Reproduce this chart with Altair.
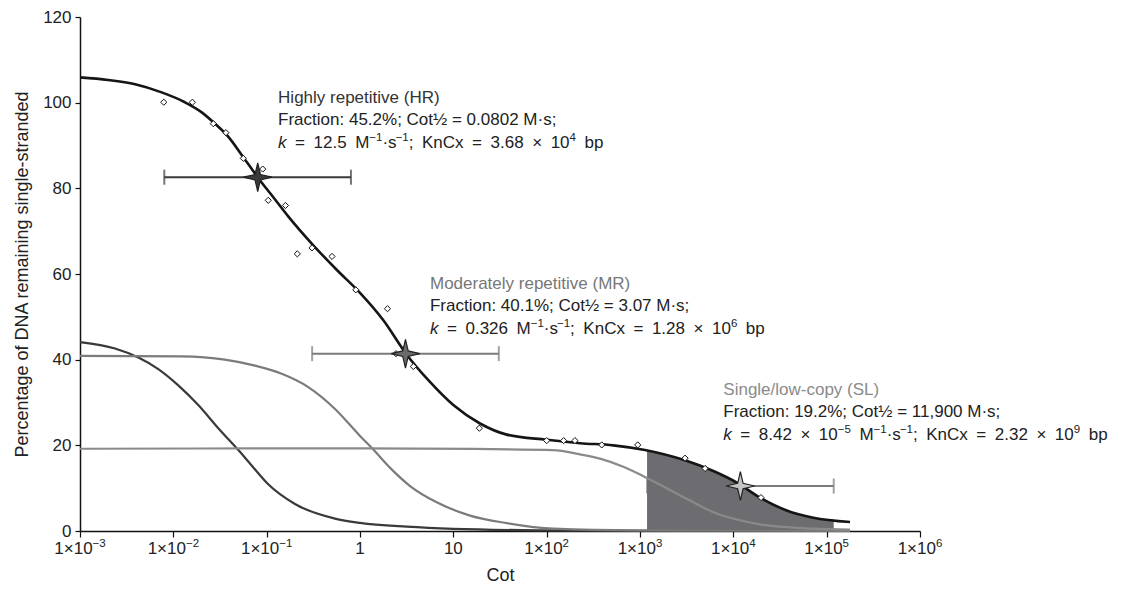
import altair as alt
import pandas as pd

# ---------------- data ----------------
x_ticks = [1e-3, 1e-2, 1e-1, 1, 10, 1e2, 1e3, 1e4, 1e5, 1e6]
x_tick_base = ["1×10", "1×10", "1×10", "1", "10", "1×10", "1×10", "1×10", "1×10", "1×10"]
x_tick_exp = ["−3", "−2", "−1", "", "", "2", "3", "4", "5", "6"]
y_ticks = [0, 20, 40, 60, 80, 100, 120]

# total fitted curve (black)
total_cot = [0.001, 0.002, 0.0039, 0.0075, 0.0133, 0.020, 0.0279, 0.0389, 0.054, 0.080,
             0.123, 0.171, 0.316, 0.562, 1.0, 1.78, 3.11, 5.62, 10, 19.3, 37.3, 100,
             228, 518, 1130, 3030, 6110, 10900, 19300, 37300, 71900, 178000]
total_pct = [105.9, 105.3, 104.3, 102.4, 100.1, 97.8, 95.1, 92.0, 87.8, 82.6,
             77.4, 73.4, 66.7, 61.0, 55.6, 49.2, 41.4, 34.8, 29.4, 25.1, 22.5, 21.3,
             20.5, 20.0, 18.9, 16.5, 14.0, 11.3, 7.8, 4.8, 3.1, 2.1]

# highly repetitive component (dark grey)
hr_cot = [0.001, 0.00237, 0.00422, 0.0069, 0.0113, 0.0185, 0.0303, 0.0497, 0.069, 0.104,
          0.201, 0.54, 1.0, 3.16, 10, 100, 1000, 178000]
hr_pct = [44.1, 42.6, 40.5, 37.8, 34.0, 29.4, 24.0, 18.9, 15.3, 10.9,
          6.3, 2.9, 1.9, 1.0, 0.5, 0.15, 0.05, 0.0]

# moderately repetitive component (grey)
mr_cot = [0.001, 0.0123, 0.0357, 0.075, 0.145, 0.279, 0.54, 1.0, 1.39, 2.09, 3.44, 6.64,
          15.1, 37.3, 118, 1000, 178000]
mr_pct = [40.9, 40.75, 40.0, 38.6, 36.7, 33.6, 28.5, 22.2, 19.0, 14.8, 10.5, 6.7,
          3.6, 1.85, 0.55, 0.15, 0.05]

# single/low-copy component (grey)
sl_cot = [0.001, 1.0, 16.6, 117, 228, 373, 662, 1090, 1930, 3440, 6110, 11800, 22800, 71900, 178000]
sl_pct = [19.2, 19.3, 19.15, 18.9, 17.9, 16.9, 15.0, 12.8, 10.0, 7.1, 4.4, 2.5, 1.3, 0.55, 0.3]

# shaded single-copy region (under the total curve)
area_cot = [1190, 3030, 6110, 10900, 19300, 37300, 71900, 119000]
area_pct = [18.8, 16.5, 14.0, 11.3, 7.8, 4.8, 3.1, 2.7]

# measured points (diamonds)
pts_cot = [0.0079, 0.0160, 0.0268, 0.0366, 0.0562, 0.0907, 0.104, 0.159, 0.213, 0.306,
           0.501, 0.902, 1.97, 2.43, 3.73, 19.0, 100, 152, 201, 389, 946, 3040, 4980, 19800]
pts_pct = [100.1, 100.1, 95.1, 93.0, 87.0, 84.5, 77.2, 76.0, 64.7, 66.1,
           64.1, 56.3, 51.9, 41.4, 38.4, 24.0, 21.1, 21.1, 21.1, 20.1, 20.1, 17.0, 14.6, 7.8]

# Cot1/2 markers with error ranges
comp_names = ["HR", "MR", "SL"]
half_cot = [0.0802, 3.07, 11900]
half_pct = [82.6, 41.4, 10.5]
err_lo = [0.008, 0.307, 1190]
err_hi = [0.80, 30.7, 119000]

# annotations (n = normal, i = italic, s = superscript)
ann_title = ["Highly repetitive (HR)", "Moderately repetitive (MR)", "Single/low-copy (SL)"]
ann_line2 = ["Fraction: 45.2%; Cot½ = 0.0802 M·s;",
             "Fraction: 40.1%; Cot½ = 3.07 M·s;",
             "Fraction: 19.2%; Cot½ = 11,900 M·s;"]
ann_line3 = [
    [("k", "i"), (" = 12.5 M", "n"), ("−1", "s"), ("·s", "n"), ("−1", "s"),
     ("; KnCx = 3.68 × 10", "n"), ("4", "s"), (" bp", "n")],
    [("k", "i"), (" = 0.326 M", "n"), ("−1", "s"), ("·s", "n"), ("−1", "s"),
     ("; KnCx = 1.28 × 10", "n"), ("6", "s"), (" bp", "n")],
    [("k", "i"), (" = 8.42 × 10", "n"), ("−5", "s"), (" M", "n"), ("−1", "s"), ("·s", "n"), ("−1", "s"),
     ("; KnCx = 2.32 × 10", "n"), ("9", "s"), (" bp", "n")],
]
ann_cot = [0.1325, 5.62, 7810]
ann_pct = [100.0, 56.6, 31.8]

# ---------------- styling ----------------
FONT = "Liberation Sans"
HR_COL = "#3a3a3a"
MR_COL = "#7b7b7b"
SL_COL = "#8a8a8a"
BLACK = "#151515"
TXT = "#222222"
STAR = "M0,-1 L0.19,-0.19 L1,0 L0.19,0.19 L0,1 L-0.19,0.19 L-1,0 L-0.19,-0.19 Z"
FS = 17          # annotation font size
SUP = 11.5       # superscript font size
SUP_RAISE = 7    # superscript raise (px)
LH = 22.5        # line height
TICK_FS = 17
EXTRA_SPACE = 3.8  # wider word spacing of the third annotation lines

# approximate Arial/Liberation Sans advance widths (em)
W = {" ": .278, ".": .278, ",": .278, ";": .278, ":": .278, "=": .584, "×": .584, "·": .278,
     "M": .833, "s": .5, "K": .667, "n": .556, "C": .722, "x": .5, "b": .556, "p": .556,
     "k": .5, "−": .584, "-": .333}
for d in "0123456789":
    W[d] = .556


def text_width(t, size):
    return sum(W.get(c, .556) for c in t) * size


xscale = alt.Scale(type="log", domain=[1e-3, 1e6], nice=False)
yscale = alt.Scale(domain=[0, 120], nice=False, zero=True)
xaxis = alt.Axis(values=x_ticks, labels=False, title="Cot", grid=False,
                 tickSize=6, titlePadding=29, titleFontSize=18, titleFont=FONT,
                 titleFontWeight="normal", titleColor=TXT)
yaxis = alt.Axis(values=y_ticks, title="Percentage of DNA remaining single-stranded", grid=False,
                 tickSize=5, labelPadding=4, titlePadding=11, labelFontSize=TICK_FS, labelFont=FONT,
                 labelColor=TXT, titleFontSize=18, titleFont=FONT, titleFontWeight="normal",
                 titleColor=TXT)


def X(field):
    return alt.X(f"{field}:Q", scale=xscale, axis=xaxis)


def Y(field):
    return alt.Y(f"{field}:Q", scale=yscale, axis=yaxis)


def curve(cots, pcts):
    return pd.DataFrame({"cot": cots, "pct": pcts})


df_total = curve(total_cot, total_pct)
df_hr = curve(hr_cot, hr_pct)
df_mr = curve(mr_cot, mr_pct)
df_sl = curve(sl_cot, sl_pct)
df_area = curve(area_cot, area_pct)
df_pts = curve(pts_cot, pts_pct)
df_half = pd.DataFrame({"name": comp_names, "cot": half_cot, "pct": half_pct,
                        "lo": err_lo, "hi": err_hi})
df_caps = pd.DataFrame({"name": comp_names * 2, "cot": err_lo + err_hi, "pct": half_pct * 2})
df_ann = pd.DataFrame({"name": comp_names, "cot": ann_cot, "pct": ann_pct,
                       "t1": ann_title, "t2": ann_line2})

err_color = alt.Color("name:N", scale=alt.Scale(domain=comp_names, range=[HR_COL, MR_COL, MR_COL]),
                      legend=None)

sl_half = df_half[df_half.name == "SL"]
sl_caps = df_caps[df_caps.name == "SL"]
other_half = df_half[df_half.name != "SL"]
other_caps = df_caps[df_caps.name != "SL"]

layers = []
layers.append(alt.Chart(sl_half).mark_rule(strokeWidth=2).encode(x=X("lo"), x2="hi", y=Y("pct"), color=err_color))
layers.append(alt.Chart(sl_caps).mark_tick(orient="vertical", size=15, thickness=2).encode(
    x=X("cot"), y=Y("pct"), color=err_color))
layers.append(alt.Chart(df_area).mark_area(color="#6d6d71", interpolate="monotone", opacity=1).encode(
    x=X("cot"), y=Y("pct")))
for df, col in [(df_hr, HR_COL), (df_mr, MR_COL), (df_sl, SL_COL)]:
    layers.append(alt.Chart(df).mark_line(color=col, strokeWidth=2.2, interpolate="monotone").encode(
        x=X("cot"), y=Y("pct")))
layers.append(alt.Chart(df_total).mark_line(color=BLACK, strokeWidth=2.6, interpolate="monotone").encode(
    x=X("cot"), y=Y("pct")))
layers.append(alt.Chart(df_pts).mark_point(shape="diamond", size=38, filled=True, fill="white",
                                           stroke="#111111", strokeWidth=1, opacity=1).encode(
    x=X("cot"), y=Y("pct")))
layers.append(alt.Chart(other_half).mark_rule(strokeWidth=2).encode(x=X("lo"), x2="hi", y=Y("pct"), color=err_color))
layers.append(alt.Chart(other_caps).mark_tick(orient="vertical", size=15, thickness=2).encode(
    x=X("cot"), y=Y("pct"), color=err_color))
layers.append(alt.Chart(df_half).mark_point(shape=STAR, size=820, filled=True, strokeWidth=1.2, opacity=1).encode(
    x=X("cot"), y=Y("pct"),
    fill=alt.Fill("name:N", scale=alt.Scale(domain=comp_names, range=["#3a3a3a", "#6a6a6a", "#c4c4c4"]),
                  legend=None),
    stroke=alt.value("#222222")))

# annotation titles and second lines
layers.append(alt.Chart(df_ann).mark_text(align="left", baseline="alphabetic", font=FONT, fontSize=FS).encode(
    x=X("cot"), y=Y("pct"), text="t1:N",
    color=alt.Color("name:N", scale=alt.Scale(domain=comp_names, range=["#333333", "#777777", "#8a8a8a"]),
                    legend=None)))
layers.append(alt.Chart(df_ann).mark_text(align="left", baseline="alphabetic", font=FONT, fontSize=FS,
                                          dy=LH, color=TXT).encode(x=X("cot"), y=Y("pct"), text="t2:N"))


def segment_layers(anchor, segments, dx0, dy0, size, sup_size, extra_space=0.0):
    """Place text pieces one after another; words are split so spaces can be widened."""
    out = []
    off = dx0
    for txt, kind in segments:
        fs = sup_size if kind == "s" else size
        i = 0
        while i < len(txt):
            if txt[i] == " ":
                off += text_width(" ", fs) + extra_space
                i += 1
                continue
            j = i
            while j < len(txt) and txt[j] != " ":
                j += 1
            word = txt[i:j]
            props = dict(align="left", baseline="alphabetic", font=FONT, fontSize=fs, color=TXT,
                         dx=off, dy=dy0 - (SUP_RAISE if kind == "s" else 0), text=word)
            if kind == "i":
                props["fontStyle"] = "italic"
            out.append(alt.Chart(anchor).mark_text(**props).encode(x=X("cot"), y=Y("pct")))
            off += text_width(word, fs)
            i = j
    return out


for i, segs in enumerate(ann_line3):
    anchor = df_ann.iloc[[i]][["cot", "pct"]]
    layers += segment_layers(anchor, segs, 0, 2 * LH, FS, SUP, EXTRA_SPACE)

# x tick labels (base + superscript exponent), centred on the tick
for v, base, ex in zip(x_ticks, x_tick_base, x_tick_exp):
    anchor = pd.DataFrame({"cot": [v], "pct": [0]})
    total = text_width(base, TICK_FS) + text_width(ex, SUP)
    segs = [(base, "n")] + ([(ex, "s")] if ex else [])
    layers += segment_layers(anchor, segs, -total / 2, 23, TICK_FS, SUP)

chart = alt.layer(*layers).resolve_scale(color="independent").properties(
    width=840, height=514,
    autosize=alt.AutoSizeParams(type="none"),
    padding={"left": 72, "top": 9, "right": 210, "bottom": 54},
    background="white",
).configure_view(stroke=None).configure_axis(
    domainColor="#111111", tickColor="#111111", domainWidth=1.5, tickWidth=1.2,
)

chart.save("out.html", embed_options={"renderer": "svg", "actions": False})
